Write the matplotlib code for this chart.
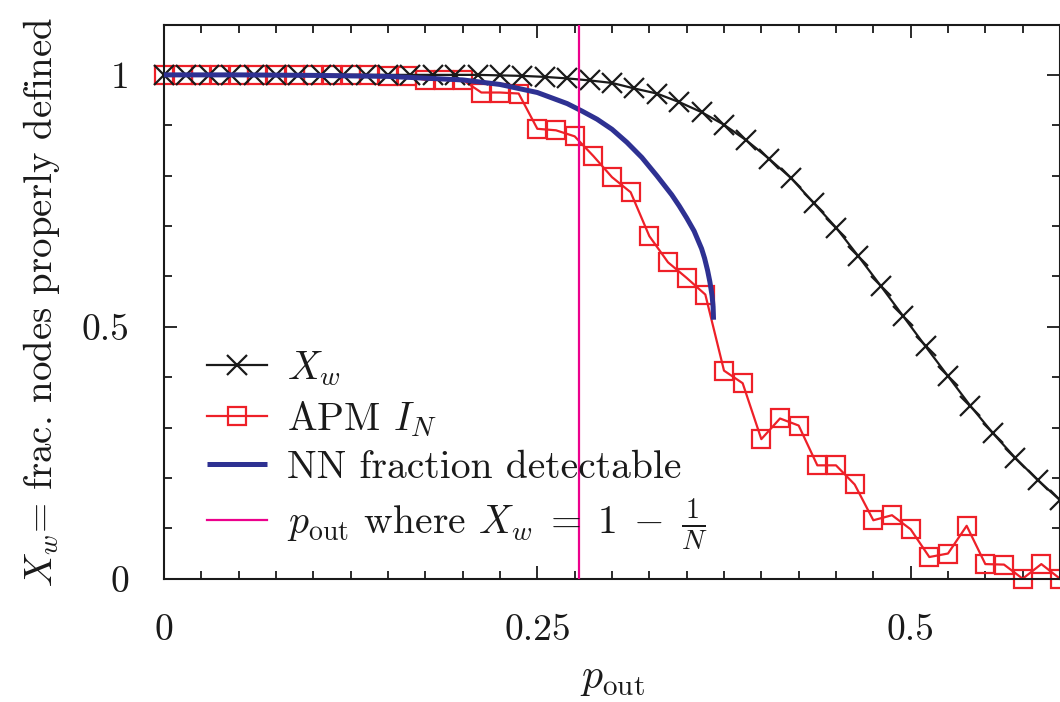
import numpy as np
import matplotlib
matplotlib.use('Agg')
import matplotlib.pyplot as plt
from matplotlib.ticker import MultipleLocator

# шрифт в стиле LaTeX
plt.rcParams['font.family'] = 'serif'
plt.rcParams['font.serif'] = ['cmr10']
plt.rcParams['mathtext.fontset'] = 'cm'
plt.rcParams['axes.unicode_minus'] = False
plt.rcParams['axes.formatter.use_mathtext'] = True

# X_w (черные крестики), шаг 0.015
xw_x = np.linspace(0, 0.6, 41)
xw_y = [1.0, 1.0, 1.0, 1.0, 1.0, 1.0, 1.0, 1.0, 1.0, 1.0,
        1.0, 1.0, 1.0, 1.0, 1.0, 0.999, 0.998, 0.996, 0.993, 0.989,
        0.984, 0.973, 0.963, 0.946, 0.926, 0.901, 0.870, 0.834, 0.795, 0.746,
        0.697, 0.640, 0.581, 0.521, 0.461, 0.402, 0.343, 0.289, 0.240, 0.196,
        0.156]

# APM I_N (красные квадраты), шаг 0.0125
apm_x = np.linspace(0, 0.6, 49)
apm_y = [1.0, 1.0, 1.0, 1.0, 1.0, 1.0, 1.0, 1.0, 1.0, 1.0,
         1.0, 1.0, 0.998, 0.997, 0.99, 0.99, 0.99, 0.965, 0.965, 0.963,
         0.893, 0.89, 0.878, 0.839, 0.797, 0.767, 0.68, 0.628, 0.597, 0.564,
         0.413, 0.388, 0.277, 0.318, 0.304, 0.225, 0.225, 0.187, 0.116, 0.126,
         0.098, 0.043, 0.05, 0.105, 0.029, 0.028, 0.0, 0.029, 0.0]

# NN fraction detectable (синяя кривая)
nn_x = [0.0, 0.05, 0.1, 0.15, 0.2, 0.225, 0.25, 0.27, 0.28, 0.29, 0.30,
        0.31, 0.32, 0.33, 0.34, 0.345, 0.35, 0.355, 0.36, 0.362, 0.364,
        0.3655, 0.367, 0.3677, 0.368]
nn_y = [1.0, 1.0, 0.999, 0.997, 0.99, 0.981, 0.965, 0.943, 0.928, 0.912, 0.892,
        0.866, 0.836, 0.8, 0.762, 0.74, 0.716, 0.69, 0.655, 0.636, 0.612,
        0.59, 0.562, 0.54, 0.514]

# p_out, где X_w = 1 - 1/N
p_line = 0.278

x_ticks = [0, 0.25, 0.5]
x_ticklabels = ['0', '0.25', '0.5']
y_ticks = [0, 0.5, 1]
y_ticklabels = ['0', '0.5', '1']

fs = 27
fs_leg = 28.5

fig = plt.figure(figsize=(10.6, 7.02), dpi=100)
ax = fig.add_axes([164 / 1060, 1 - 578.7 / 702, (1060 - 164) / 1060, (578.7 - 24.5) / 702])

ax.plot(apm_x, apm_y, color='#ee2028', linewidth=1.6, marker='s', markersize=13,
        markerfacecolor='none', markeredgewidth=1.6, markeredgecolor='#ee2028',
        clip_on=False, zorder=2, label=r'APM $I_N$')
ax.plot(xw_x, xw_y, color='#1a1a1a', linewidth=1.6, marker='x', markersize=14,
        markeredgewidth=1.6, clip_on=False, zorder=3, label=r'$X_w$')
ax.plot(nn_x, nn_y, color='#2e3192', linewidth=3.6, zorder=4,
        solid_capstyle='butt', solid_joinstyle='round', label='NN fraction detectable')
ax.axvline(p_line, color='#ec008c', linewidth=1.6, zorder=5,
           label=r'$p_\mathrm{out}$ where $X_w\;=\;1\;-\;\frac{1}{N}$')

ax.set_xlim(0, 0.6)
ax.set_ylim(0, 1.1)
ax.set_xticks(x_ticks)
ax.set_xticklabels(x_ticklabels)
ax.set_yticks(y_ticks)
ax.set_yticklabels(y_ticklabels)
ax.xaxis.set_minor_locator(MultipleLocator(0.025))
ax.yaxis.set_minor_locator(MultipleLocator(0.1))
ax.tick_params(which='both', direction='in', top=True, right=True, width=1.3,
               labelsize=fs, color='#1a1a1a', labelcolor='#1a1a1a')
ax.tick_params(axis='x', which='major', length=9.2, pad=25)
ax.tick_params(axis='y', which='major', length=9.2, pad=25)
ax.tick_params(which='minor', length=6.0)
for s in ax.spines.values():
    s.set_linewidth(1.5)
    s.set_color('#1a1a1a')

ax.set_xlabel(r'$p_\mathrm{out}$', fontsize=30, labelpad=10, color='#1a1a1a')
ax.set_ylabel(r'$X_w$= frac. nodes properly defined', fontsize=28, labelpad=14,
              color='#1a1a1a')

h, l = ax.get_legend_handles_labels()
order = [1, 0, 2, 3]
ax.legend([h[i] for i in order], [l[i] for i in order], loc='lower left',
          bbox_to_anchor=(0.048, 0.045), borderaxespad=0, borderpad=0,
          frameon=False, fontsize=fs_leg, handlelength=1.52, handletextpad=0.5,
          labelspacing=0.28, numpoints=1, labelcolor='#1a1a1a')

fig.savefig('out.png', dpi=100)
